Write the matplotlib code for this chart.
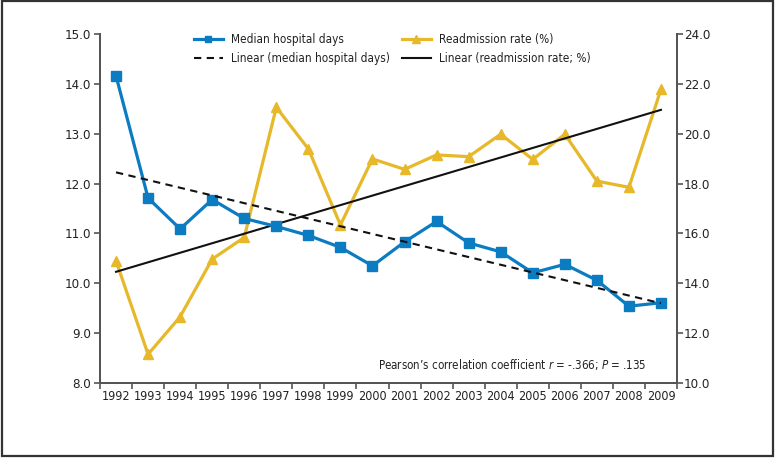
import matplotlib
matplotlib.use("Agg")
import matplotlib.pyplot as plt
import numpy as np
from matplotlib.patches import Rectangle

years = [str(y) for y in range(1992, 2010)]
median_days = [14.16, 11.71, 11.09, 11.68, 11.30, 11.14, 10.96, 10.72, 10.35,
               10.83, 11.24, 10.81, 10.63, 10.21, 10.38, 10.06, 9.54, 9.61]
readmission = [14.9, 11.15, 12.66, 14.97, 15.84, 21.06, 19.39, 16.34, 18.99,
               18.57, 19.15, 19.08, 19.98, 18.97, 19.98, 18.10, 17.85, 21.78]
left_ticks = [8.0, 9.0, 10.0, 11.0, 12.0, 13.0, 14.0, 15.0]
right_ticks = [10.0, 12.0, 14.0, 16.0, 18.0, 20.0, 22.0, 24.0]

plt.rcParams['font.family'] = ['DejaVu Sans']
plt.rcParams['font.stretch'] = 'condensed'
plt.rcParams['mathtext.fontset'] = 'custom'
plt.rcParams['mathtext.it'] = 'DejaVu Sans:style=italic:stretch=condensed'
plt.rcParams['mathtext.rm'] = 'DejaVu Sans:stretch=condensed'

BLUE = '#0b7cc2'
YELLOW = '#e6b82a'
AXC = '#555555'
TXT = '#222222'

fig = plt.figure(figsize=(7.75, 4.58), dpi=100)
fig.patches.append(Rectangle((0.002, 0.004), 0.995, 0.993, transform=fig.transFigure,
                             fill=False, edgecolor='#333333', linewidth=1.6))
ax = fig.add_axes([100/775, 1-383/458, 577/775, 349/458])
ax2 = ax.twinx()

x = np.arange(len(years))
ax.set_xlim(-0.5, len(years)-0.5)
ax.set_ylim(8.0, 15.0)
ax2.set_ylim(10.0, 24.0)

p1 = np.polyfit(x, median_days, 1)
p2 = np.polyfit(x, readmission, 1)
xt = np.array([0, len(years)-1])

l_blue, = ax.plot(x, median_days, color=BLUE, lw=2.3, marker='s', ms=6.8,
                  label='Median hospital days', zorder=5)
l_dash, = ax.plot(xt, np.polyval(p1, xt), color='#111111', lw=1.5, ls=(0, (3.5, 2.6)),
                  label='Linear (median hospital days)', zorder=6)
l_yel, = ax2.plot(x, readmission, color=YELLOW, lw=2.3, marker='^', ms=7.2,
                  label='Readmission rate (%)', zorder=4)
l_sol, = ax2.plot(xt, np.polyval(p2, xt), color='#111111', lw=1.5,
                  label='Linear (readmission rate; %)', zorder=6)
ax.set_zorder(ax2.get_zorder()+1)
ax.patch.set_visible(False)

for a in (ax, ax2):
    a.spines['top'].set_visible(False)
    for s in ('left', 'right', 'bottom'):
        a.spines[s].set_color(AXC)
        a.spines[s].set_linewidth(1.4)

ax.set_yticks(left_ticks)
ax.set_yticklabels([f'{v:.1f}' for v in left_ticks])
ax2.set_yticks(right_ticks)
ax2.set_yticklabels([f'{v:.1f}' for v in right_ticks])
ax.tick_params(axis='y', direction='out', length=4, width=1.2, color=AXC,
               labelsize=9.5, labelcolor=TXT, pad=2.2)
ax2.tick_params(axis='y', direction='out', length=4, width=1.2, color=AXC,
                labelsize=9.5, labelcolor=TXT, pad=1.0)

ax.set_xticks(x)
ax.set_xticklabels(years)
ax.set_xticks(np.arange(-0.5, len(years), 1.0), minor=True)
ax.tick_params(axis='x', which='major', length=0, labelsize=9, labelcolor=TXT, pad=5)
ax.tick_params(axis='x', which='minor', direction='out', length=4, width=1.2, color=AXC)

legkw = dict(loc='center left', frameon=False, fontsize=8.5, handlelength=2.45,
             handletextpad=0.72, labelspacing=0.45, borderaxespad=0, borderpad=0,
             markerscale=0.72)
leg1 = fig.legend(handles=[l_blue, l_dash], bbox_to_anchor=(194/775, 1-49/458), **legkw)
leg2 = fig.legend(handles=[l_yel, l_sol], bbox_to_anchor=(402/775, 1-49/458), **legkw)
for lg in (leg1, leg2):
    for t in lg.get_texts():
        t.set_color(TXT)

fig.text(647/775, 1-364/458,
         r"Pearson’s correlation coefficient $r$ = -.366; $P$ = .135",
         ha='right', va='center', fontsize=8.3, color=TXT)

fig.savefig('out.png', dpi=100)
